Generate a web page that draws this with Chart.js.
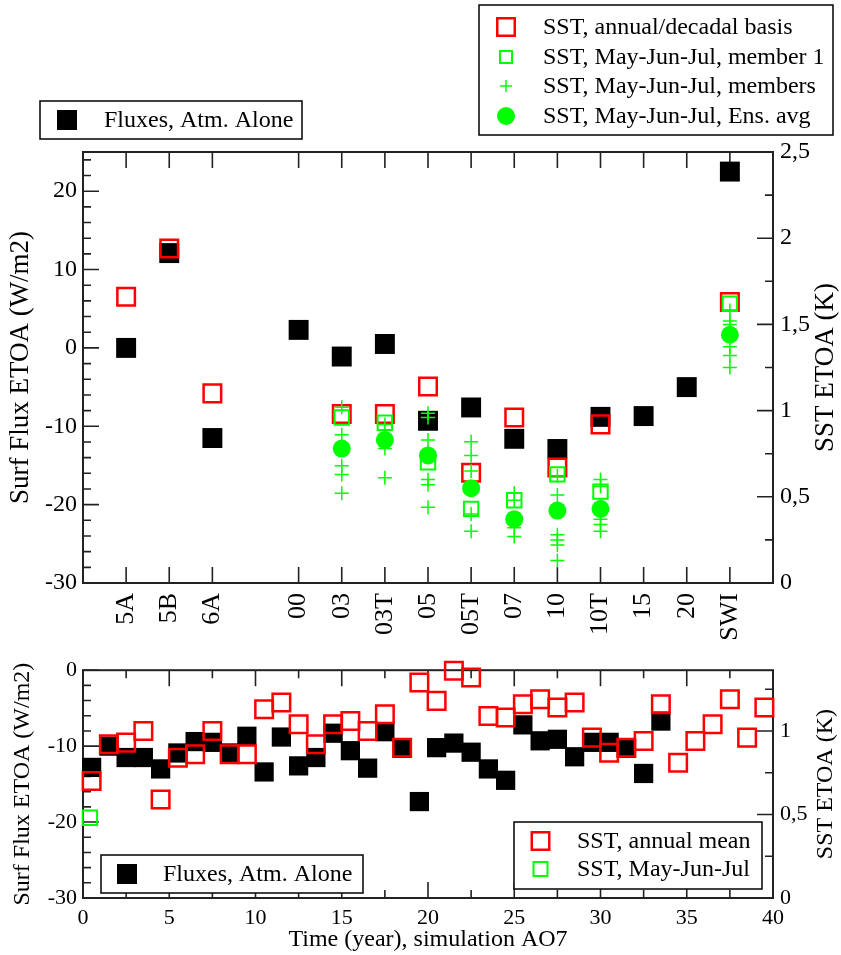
<!DOCTYPE html>
<html>
<head>
<meta charset="utf-8">
<script src="https://cdn.jsdelivr.net/npm/chart.js@4.4.0/dist/chart.umd.min.js"></script>
<style>
  html, body { margin: 0; padding: 0; background: #fff; }
  #wrap { position: relative; width: 841px; height: 955px; }
  #top { position: absolute; left: 0; top: 0; width: 841px; height: 650px; }
  #bot { position: absolute; left: 0; top: 650px; width: 841px; height: 305px; }
</style>
</head>
<body>
<div id="wrap">
  <div id="top"><canvas id="c1"></canvas></div>
  <div id="bot"><canvas id="c2"></canvas></div>
</div>
<script>
// ---- top panel : experiments ----
const expNames = ['5A', '5B', '6A', '00', '03', '03T', '05', '05T', '07', '10', '10T', '15', '20', 'SWI'];
const expPos   = [1, 2, 3, 5, 6, 7, 8, 9, 10, 11, 12, 13, 14, 15];
// W/m2, left axis
const fluxAtm = [0, 12.1, -11.5, 2.3, -1.1, 0.5, -9.3, -7.6, -11.6, -12.9, -8.8, -8.7, -5.0, 22.5];
// K, right axis
const sstAnnual  = [1.66, 1.94, 1.10, null, 0.98, 0.98, 1.14, 0.64, 0.96, 0.67, 0.92, null, null, 1.63];
const sstMember1 = [null, null, null, null, 0.96, 0.93, 0.70, 0.43, 0.48, 0.63, 0.53, null, null, 1.62];
const sstEnsAvg  = [null, null, null, null, 0.78, 0.83, 0.74, 0.55, 0.37, 0.42, 0.43, null, null, 1.44];
const sstMembers = [
  [], [], [], [],
  [1.02, 0.86, 0.68, 0.63, 0.52],
  [0.92, 0.78, 0.61],
  [0.985, 0.96, 0.83, 0.60, 0.57, 0.44],
  [0.82, 0.74, 0.65, 0.40, 0.30],
  [0.52, 0.48, 0.32, 0.27],
  [0.62, 0.51, 0.28, 0.25, 0.22, 0.13],
  [0.60, 0.56, 0.37, 0.34, 0.30],
  [], [],
  [1.58, 1.52, 1.50, 1.37, 1.32, 1.25]
];
const topLeftTicks  = [-30, -20, -10, 0, 10, 20];
const topRightTicks = [0, 0.5, 1, 1.5, 2, 2.5];

// ---- bottom panel : time series AO7 ----
const years = [0.5, 1.5, 2.5, 3.5, 4.5, 5.5, 6.5, 7.5, 8.5, 9.5, 10.5, 11.5, 12.5, 13.5, 14.5, 15.5, 16.5, 17.5, 18.5, 19.5,
               20.5, 21.5, 22.5, 23.5, 24.5, 25.5, 26.5, 27.5, 28.5, 29.5, 30.5, 31.5, 32.5, 33.5, 34.5, 35.5, 36.5, 37.5, 38.5, 39.5];
const fluxYear = [-12.8, -10.0, -11.5, -11.5, -13.0, -10.9, -9.4, -9.5, -10.9, -8.7, -13.4, -8.8, -12.6, -11.5, -8.3, -10.6, -12.9, -8.1, -10.3, -17.3,
                  -10.2, -9.6, -10.8, -13.0, -14.5, -7.2, -9.3, -9.1, -11.4, -9.5, -9.5, -10.3, -13.6, -6.7];
const sstAnnualMean = [0.70, 0.92, 0.93, 1.00, 0.59, 0.84, 0.86, 1.00, 0.86, 0.86, 1.13, 1.17, 1.04, 0.92, 1.04, 1.06, 1.00, 1.10, 0.90, 1.29,
                       1.18, 1.36, 1.32, 1.09, 1.08, 1.16, 1.19, 1.14, 1.17, 0.96, 0.87, 0.90, 0.94, 1.16, 0.81, 0.94, 1.04, 1.19, 0.96, 1.14];
const mjjYears = [0.4];
const sstMjjYear = [0.48];
const botXTicks     = [0, 5, 10, 15, 20, 25, 30, 35, 40];
const botLeftTicks  = [-30, -20, -10, 0];
const botRightTicks = [0, 0.5, 1];

const FONT = '"Liberation Serif", "Times New Roman", serif';
const RED = '#ff0000';
const GREEN = '#00ff00';

function pts(xs, ys) {
  const out = [];
  ys.forEach((v, i) => { if (v !== null) out.push({ x: xs[i], y: v }); });
  return out;
}
const memberPts = [];
sstMembers.forEach((arr, i) => arr.forEach(v => memberPts.push({ x: expPos[i], y: v })));

function range(a, b, step, skip) {
  const out = [];
  for (let v = a; v <= b + 1e-9; v += step) {
    if (!skip || Math.abs(v / skip - Math.round(v / skip)) > 1e-6) out.push(v);
  }
  return out;
}
const comma = v => String(v).replace('.', ',');

function drawMark(ctx, kind, x, y, size) {
  const h = size / 2;
  ctx.save();
  if (kind === 'black') {
    ctx.fillStyle = '#000';
    ctx.fillRect(x - h, y - h, size, size);
  } else if (kind === 'red' || kind === 'greensq') {
    ctx.strokeStyle = kind === 'red' ? RED : GREEN;
    ctx.lineWidth = kind === 'red' ? 2.5 : 2;
    const s = size - ctx.lineWidth;
    ctx.strokeRect(x - s / 2, y - s / 2, s, s);
  } else if (kind === 'plus') {
    ctx.strokeStyle = GREEN;
    ctx.lineWidth = 1.5;
    ctx.beginPath();
    ctx.moveTo(x - h, y); ctx.lineTo(x + h, y);
    ctx.moveTo(x, y - h); ctx.lineTo(x, y + h);
    ctx.stroke();
  } else if (kind === 'dot') {
    ctx.fillStyle = GREEN;
    ctx.beginPath();
    ctx.arc(x, y, h, 0, Math.PI * 2);
    ctx.fill();
  }
  ctx.restore();
}

const decor = {
  id: 'decor',
  beforeDatasetsDraw(chart, args, o) {
    const ctx = chart.ctx, a = chart.chartArea;
    const xs = chart.scales.x, yl = chart.scales.y, yr = chart.scales.y2;
    ctx.save();
    ctx.strokeStyle = '#222';
    ctx.lineWidth = 1.6;
    ctx.beginPath();
    const xt = (vals, len) => vals.forEach(v => {
      const px = xs.getPixelForValue(v);
      ctx.moveTo(px, a.bottom); ctx.lineTo(px, a.bottom - len);
      ctx.moveTo(px, a.top); ctx.lineTo(px, a.top + len);
    });
    const lt = (vals, len) => vals.forEach(v => {
      const py = yl.getPixelForValue(v);
      ctx.moveTo(a.left, py); ctx.lineTo(a.left + len, py);
    });
    const rt = (vals, len) => vals.forEach(v => {
      const py = yr.getPixelForValue(v);
      ctx.moveTo(a.right, py); ctx.lineTo(a.right - len, py);
    });
    xt(o.xMajor, 16); xt(o.xMinor, 8);
    lt(o.yMajor, 16); lt(o.yMinor, 8);
    rt(o.rMajor, 16); rt(o.rMinor, 8);
    ctx.stroke();
    ctx.lineWidth = 2;
    ctx.strokeRect(a.left, a.top, a.right - a.left, a.bottom - a.top);
    ctx.restore();
  },
  afterDraw(chart, args, o) {
    const ctx = chart.ctx, a = chart.chartArea;
    ctx.save();
    // right axis title, reads bottom to top
    ctx.translate(o.rightTitleX, (a.top + a.bottom) / 2);
    ctx.rotate(-Math.PI / 2);
    ctx.fillStyle = '#000';
    ctx.font = o.titleSize + 'px ' + FONT;
    ctx.textAlign = 'center';
    ctx.textBaseline = 'middle';
    ctx.fillText(o.rightTitle, 0, 0);
    ctx.restore();

    o.legends.forEach(L => {
      ctx.save();
      ctx.fillStyle = '#fff';
      ctx.fillRect(L.x, L.y, L.w, L.h);
      ctx.strokeStyle = '#000';
      ctx.lineWidth = 1.5;
      ctx.strokeRect(L.x, L.y, L.w, L.h);
      ctx.font = '24px ' + FONT;
      ctx.textBaseline = 'middle';
      ctx.textAlign = 'left';
      L.items.forEach((it, i) => {
        drawMark(ctx, it.kind, L.mx, L.rows[i], it.size);
        ctx.fillStyle = '#000';
        ctx.fillText(chart.data.datasets[it.ds].label, L.tx, L.rows[i] + 1);
      });
      ctx.restore();
    });
  }
};

const tickFont = size => ({ family: FONT, size: size });

// ---------- top chart ----------
new Chart(document.getElementById('c1'), {
  type: 'scatter',
  data: {
    datasets: [
      { label: 'Fluxes, Atm. Alone', data: pts(expPos, fluxAtm), yAxisID: 'y',
        pointStyle: 'rect', pointRadius: 14.1, pointBackgroundColor: '#000', backgroundColor: '#000',
        pointBorderWidth: 0, borderWidth: 0, order: 5, clip: false },
      { label: 'SST, annual/decadal basis', data: pts(expPos, sstAnnual), yAxisID: 'y2',
        pointStyle: 'rect', pointRadius: 12.4, pointBackgroundColor: 'rgba(0,0,0,0)', backgroundColor: 'rgba(0,0,0,0)',
        pointBorderColor: RED, borderColor: RED, pointBorderWidth: 2.5, borderWidth: 2.5, order: 4, clip: false },
      { label: 'SST, May-Jun-Jul, member 1', data: pts(expPos, sstMember1), yAxisID: 'y2',
        pointStyle: 'rect', pointRadius: 10.2, pointBackgroundColor: 'rgba(0,0,0,0)', backgroundColor: 'rgba(0,0,0,0)',
        pointBorderColor: GREEN, borderColor: GREEN, pointBorderWidth: 2, borderWidth: 2, order: 2, clip: false },
      { label: 'SST, May-Jun-Jul, members', data: memberPts, yAxisID: 'y2',
        pointStyle: 'cross', pointRadius: 7, pointBorderColor: GREEN, borderColor: GREEN,
        pointBorderWidth: 1.5, borderWidth: 1.5, order: 1, clip: false },
      { label: 'SST, May-Jun-Jul, Ens. avg', data: pts(expPos, sstEnsAvg), yAxisID: 'y2',
        pointStyle: 'circle', pointRadius: 9, pointBackgroundColor: GREEN, backgroundColor: GREEN,
        pointBorderWidth: 0, borderWidth: 0, order: 3, clip: false }
    ]
  },
  options: {
    responsive: true,
    maintainAspectRatio: false,
    animation: false,
    layout: { padding: { top: 152, left: 0, right: 0, bottom: 0 } },
    plugins: {
      legend: { display: false },
      tooltip: { enabled: false },
      decor: {
        xMajor: expPos, xMinor: [],
        yMajor: topLeftTicks, yMinor: range(-30, 24, 2, 10),
        rMajor: topRightTicks, rMinor: range(0.25, 2.25, 0.5),
        rightTitle: 'SST ETOA (K)', rightTitleX: 826, titleSize: 27,
        legends: [
          { x: 479, y: 5, w: 354, h: 130, mx: 506, tx: 543, rows: [27, 57, 86, 116],
            items: [{ ds: 1, kind: 'red', size: 20 }, { ds: 2, kind: 'greensq', size: 14 },
                    { ds: 3, kind: 'plus', size: 12 }, { ds: 4, kind: 'dot', size: 18 }] },
          { x: 40, y: 101, w: 262, h: 38, mx: 67, tx: 104, rows: [120],
            items: [{ ds: 0, kind: 'black', size: 20 }] }
        ]
      }
    },
    scales: {
      x: {
        type: 'linear', min: 0, max: 16,
        grid: { display: false, drawTicks: false }, border: { display: false },
        afterBuildTicks: s => { s.ticks = expPos.map(v => ({ value: v })); },
        ticks: { autoSkip: false, minRotation: 90, maxRotation: 90, padding: 10, color: '#000',
                 font: tickFont(26), callback: v => expNames[expPos.indexOf(v)] },
        afterFit: s => { s.height = 67; }
      },
      y: {
        position: 'left', min: -30, max: 25,
        grid: { display: false, drawTicks: false }, border: { display: false },
        afterBuildTicks: s => { s.ticks = topLeftTicks.map(v => ({ value: v })); },
        ticks: { padding: 6, color: '#000', font: tickFont(24) },
        title: { display: true, text: 'Surf Flux ETOA (W/m2)', color: '#000', font: tickFont(27), padding: { top: 5 } },
        afterFit: s => { s.width = 83; }
      },
      y2: {
        position: 'right', min: 0, max: 2.5,
        grid: { display: false, drawTicks: false }, border: { display: false },
        afterBuildTicks: s => { s.ticks = topRightTicks.map(v => ({ value: v })); },
        ticks: { padding: 7, color: '#000', font: tickFont(24), callback: comma },
        afterFit: s => { s.width = 68; }
      }
    }
  },
  plugins: [decor]
});

// ---------- bottom chart ----------
new Chart(document.getElementById('c2'), {
  type: 'scatter',
  data: {
    datasets: [
      { label: 'Fluxes, Atm. Alone', data: pts(years, fluxYear), yAxisID: 'y',
        pointStyle: 'rect', pointRadius: 13.6, pointBackgroundColor: '#000', backgroundColor: '#000',
        pointBorderWidth: 0, borderWidth: 0, order: 3, clip: false },
      { label: 'SST, annual mean', data: pts(years, sstAnnualMean), yAxisID: 'y2',
        pointStyle: 'rect', pointRadius: 12.4, pointBackgroundColor: 'rgba(0,0,0,0)', backgroundColor: 'rgba(0,0,0,0)',
        pointBorderColor: RED, borderColor: RED, pointBorderWidth: 2.5, borderWidth: 2.5, order: 2, clip: false },
      { label: 'SST, May-Jun-Jul', data: pts(mjjYears, sstMjjYear), yAxisID: 'y2',
        pointStyle: 'rect', pointRadius: 10.2, pointBackgroundColor: 'rgba(0,0,0,0)', backgroundColor: 'rgba(0,0,0,0)',
        pointBorderColor: GREEN, borderColor: GREEN, pointBorderWidth: 2, borderWidth: 2, order: 1, clip: false }
    ]
  },
  options: {
    responsive: true,
    maintainAspectRatio: false,
    animation: false,
    layout: { padding: { top: 16, left: 0, right: 0, bottom: 0 } },
    plugins: {
      legend: { display: false },
      tooltip: { enabled: false },
      decor: {
        xMajor: botXTicks, xMinor: range(2.5, 37.5, 5),
        yMajor: botLeftTicks, yMinor: range(-30, 0, 2, 10),
        rMajor: botRightTicks, rMinor: [0.25, 0.75, 1.25],
        rightTitle: 'SST ETOA (K)', rightTitleX: 826, titleSize: 24,
        legends: [
          { x: 101, y: 205, w: 262, h: 38, mx: 127, tx: 163, rows: [224],
            items: [{ ds: 0, kind: 'black', size: 20 }] },
          { x: 514, y: 172, w: 248, h: 67, mx: 540.5, tx: 577, rows: [191, 219],
            items: [{ ds: 1, kind: 'red', size: 20 }, { ds: 2, kind: 'greensq', size: 16 }] }
        ]
      }
    },
    scales: {
      x: {
        type: 'linear', min: 0, max: 40,
        grid: { display: false, drawTicks: false }, border: { display: false },
        afterBuildTicks: s => { s.ticks = botXTicks.map(v => ({ value: v })); },
        ticks: { autoSkip: false, maxRotation: 0, padding: 7, color: '#000', font: tickFont(22) },
        title: { display: true, text: 'Time (year), simulation AO7', color: '#000', font: tickFont(24), padding: { top: 0, bottom: 1 } },
        afterFit: s => { s.height = 57; }
      },
      y: {
        position: 'left', min: -30, max: 0,
        grid: { display: false, drawTicks: false }, border: { display: false },
        afterBuildTicks: s => { s.ticks = botLeftTicks.map(v => ({ value: v })); },
        ticks: { padding: 6, color: '#000', font: tickFont(22) },
        title: { display: true, text: 'Surf Flux ETOA (W/m2)', color: '#000', font: tickFont(24), padding: { top: 8 } },
        afterFit: s => { s.width = 83; }
      },
      y2: {
        position: 'right', min: 0, max: 30 / 22,
        grid: { display: false, drawTicks: false }, border: { display: false },
        afterBuildTicks: s => { s.ticks = botRightTicks.map(v => ({ value: v })); },
        ticks: { padding: 7, color: '#000', font: tickFont(22), callback: comma },
        afterFit: s => { s.width = 68; }
      }
    }
  },
  plugins: [decor]
});
</script>
</body>
</html>
